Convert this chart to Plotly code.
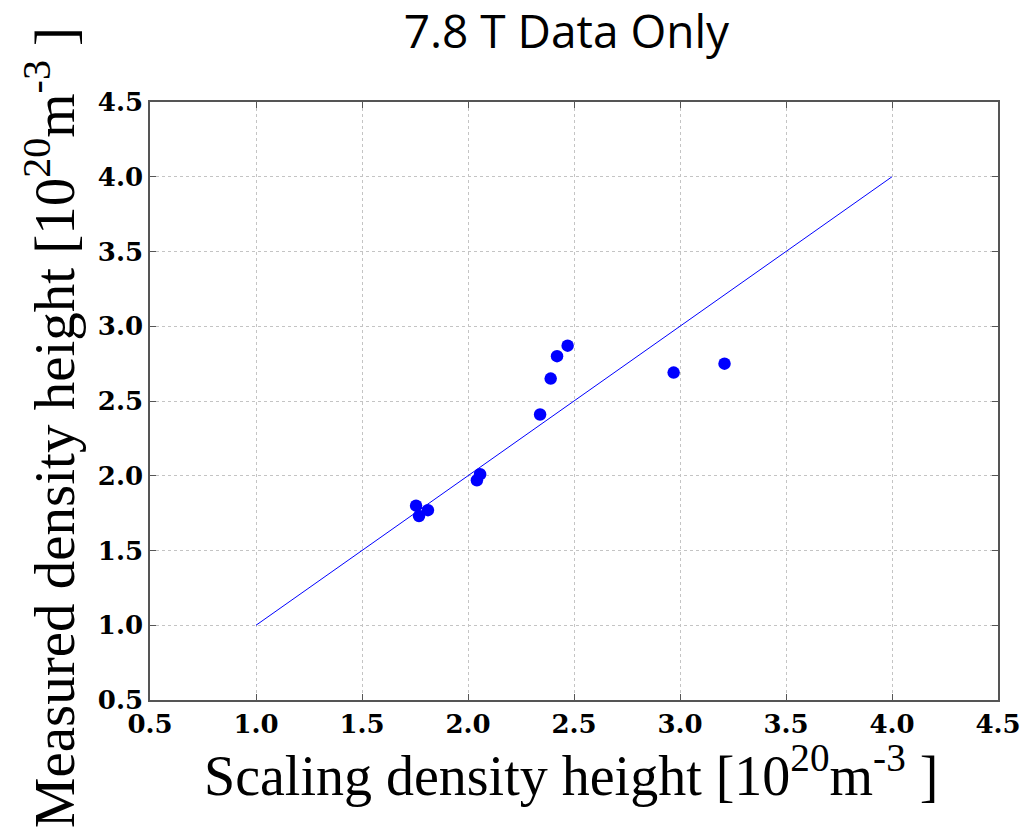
import plotly.graph_objects as go

scaling = [1.755, 1.769, 1.811, 2.042, 2.057, 2.34, 2.39, 2.42, 2.47, 2.97, 3.21]
measured = [1.80, 1.73, 1.77, 1.97, 2.01, 2.41, 2.65, 2.80, 2.87, 2.69, 2.75]
line_x = [1.0, 4.0]
line_y = [1.0, 4.0]
tick_vals = [0.5, 1.0, 1.5, 2.0, 2.5, 3.0, 3.5, 4.0, 4.5]
tick_text = ["0.5", "1.0", "1.5", "2.0", "2.5", "3.0", "3.5", "4.0", "4.5"]

fig = go.Figure()
fig.add_trace(go.Scatter(x=line_x, y=line_y, mode="lines",
                         line=dict(color="#0000ff", width=1), showlegend=False))
fig.add_trace(go.Scatter(x=scaling, y=measured, mode="markers",
                         marker=dict(color="#0000ff", size=12.5, line=dict(width=0)),
                         showlegend=False))

tickfont = dict(family="DejaVu Serif", size=26, color="black", weight="bold")
axis_common = dict(
    range=[0.5, 4.5], tickvals=tick_vals, ticktext=tick_text,
    showgrid=True, gridcolor="#c4c4c4", griddash="dot", gridwidth=1,
    showline=True, linecolor="#555555", linewidth=1.5, mirror="ticks",
    ticks="inside", ticklen=6, tickcolor="#555555",
    zeroline=False, tickfont=tickfont, automargin=False,
)

fig.update_layout(
    width=1026, height=829,
    margin=dict(l=150, r=28, t=102, b=129, autoexpand=False),
    paper_bgcolor="white", plot_bgcolor="white",
    title=dict(text="7.8 T Data Only", x=0.552, xanchor="center", y=0.961, yanchor="middle",
               font=dict(family="Open Sans", size=46, color="black")),
    xaxis=dict(**axis_common),
    yaxis=dict(**axis_common),
    annotations=[
        dict(
            text="Measured density height [10<sup>20</sup>m<sup>-3</sup> ]",
            xref="paper", yref="paper", x=-0.118, y=0.456,
            xanchor="center", yanchor="middle", textangle=-90, showarrow=False,
            font=dict(family="Liberation Serif", size=57, color="black"),
        ),
        dict(
            text="Scaling density height [10<sup>20</sup>m<sup>-3</sup> ]",
            xref="paper", yref="paper", x=0.497, y=-0.119,
            xanchor="center", yanchor="middle", showarrow=False,
            font=dict(family="Liberation Serif", size=56, color="black"),
        ),
    ],
)

fig.write_html("out.html")
